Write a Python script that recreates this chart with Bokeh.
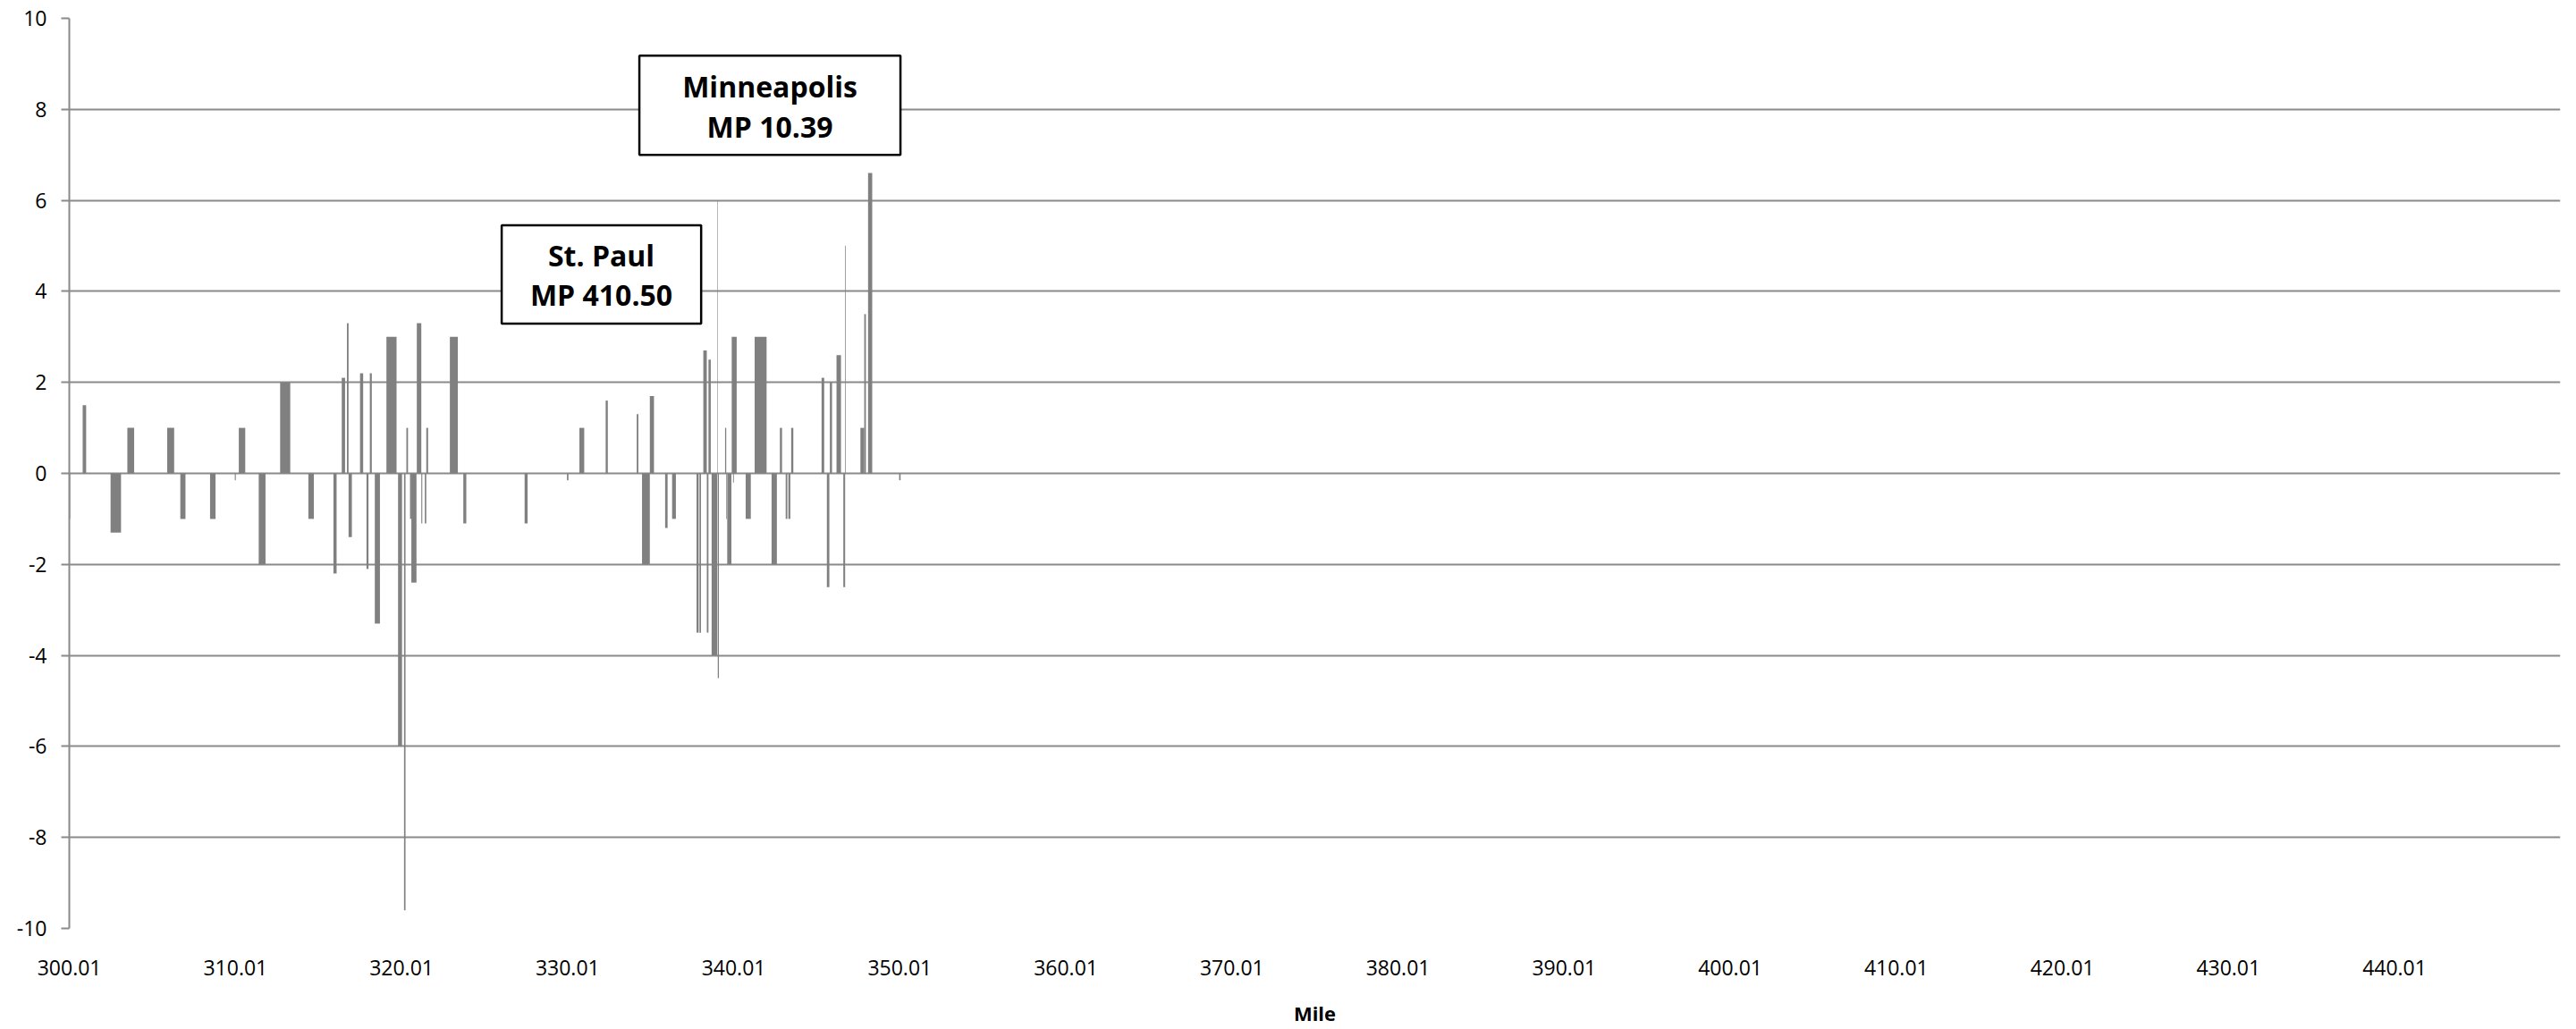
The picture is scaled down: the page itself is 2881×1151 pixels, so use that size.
from bokeh.plotting import figure
from bokeh.models import Range1d, FixedTicker, NumeralTickFormatter, BoxAnnotation, Label, ColumnDataSource
from bokeh.embed import file_html
from bokeh.resources import INLINE

# ---- data ----
bar_start = [300.02, 300.81, 302.49, 303.50, 305.90, 306.69, 308.48, 309.97, 310.21, 311.41,
             312.70, 314.40, 315.91, 316.41, 316.72, 316.82, 317.51, 317.90, 318.10, 318.40,
             319.10, 319.80, 320.16, 320.30, 320.52, 320.60, 320.93, 321.20, 321.41, 321.50,
             322.92, 323.73, 327.42, 329.97, 330.72, 332.30, 334.17, 334.49, 334.96, 335.88,
             336.30, 337.77, 337.95, 338.18, 338.39, 338.49, 338.68, 339.02, 339.05, 339.49,
             339.56, 339.62, 339.89, 339.97, 340.73, 341.27, 342.29, 342.79, 343.14, 343.30,
             343.47, 345.30, 345.62, 345.80, 346.20, 346.61, 346.72, 347.64, 347.87, 348.10,
             349.97]
bar_end = [300.06, 301.02, 303.12, 303.91, 306.32, 307.00, 308.81, 310.03, 310.60, 311.82,
           313.31, 314.73, 316.10, 316.61, 316.82, 317.02, 317.70, 318.02, 318.22, 318.71,
           319.71, 320.04, 320.25, 320.40, 320.60, 320.91, 321.20, 321.26, 321.50, 321.61,
           323.40, 323.91, 327.60, 330.06, 331.01, 332.43, 334.27, 334.96, 335.21, 336.03,
           336.53, 337.90, 338.04, 338.39, 338.49, 338.63, 339.02, 339.05, 339.12, 339.56,
           339.60, 339.87, 340.19, 340.02, 341.04, 341.99, 342.61, 342.92, 343.24, 343.42,
           343.60, 345.46, 345.77, 345.93, 346.47, 346.72, 346.76, 347.87, 347.97, 348.35,
           350.06]
bar_value = [-1.0, 1.5, -1.3, 1.0, 1.0, -1.0, -1.0, -0.15, 1.0, -2.0,
             2.0, -1.0, -2.2, 2.1, 3.3, -1.4, 2.2, -2.1, 2.2, -3.3,
             3.0, -6.0, -9.6, 1.0, -1.0, -2.4, 3.3, -1.1, -1.1, 1.0,
             3.0, -1.1, -1.1, -0.15, 1.0, 1.6, 1.3, -2.0, 1.7, -1.2,
             -1.0, -3.5, -3.5, 2.7, -3.5, 2.5, -4.0, 6.0, -4.5, 1.0,
             -1.0, -2.0, 3.0, -0.2, -1.0, 3.0, -2.0, 1.0, -1.0, -1.0,
             1.0, 2.1, -2.5, 2.0, 2.6, -2.5, 5.0, 1.0, 3.5, 6.6,
             -0.15]

x_ticks = [300.01, 310.01, 320.01, 330.01, 340.01, 350.01, 360.01, 370.01,
           380.01, 390.01, 400.01, 410.01, 420.01, 430.01, 440.01]
y_ticks = [-10, -8, -6, -4, -2, 0, 2, 4, 6, 8, 10]
x_title = "Mile"

city_names = ["St. Paul", "Minneapolis"]
city_mileposts = ["MP 410.50", "MP 10.39"]

# ---- styling ----
GRID = "#8a8a8a"
BAR = "#808080"
FONT = "Open Sans"

p = figure(width=2873, height=1150, output_backend="svg", toolbar_location=None,
           x_range=Range1d(300.005, 449.995), y_range=Range1d(-10, 10),
           min_border_left=77, min_border_right=10, min_border_top=20, min_border_bottom=111)
p.outline_line_color = None
p.background_fill_color = "white"
p.border_fill_color = "white"

src = ColumnDataSource(dict(left=bar_start, right=bar_end, top=bar_value))
p.quad(left="left", right="right", top="top", bottom=0, source=src,
       fill_color=BAR, line_color=None)

# grid
p.xgrid.visible = False
p.ygrid.grid_line_color = GRID
p.ygrid.grid_line_width = 2
p.ygrid.ticker = FixedTicker(ticks=y_ticks)

# y axis
ya = p.yaxis[0]
ya.ticker = FixedTicker(ticks=y_ticks)
ya.major_label_overrides = {t: str(t) for t in y_ticks}
ya.axis_line_color = GRID
ya.axis_line_width = 2
ya.major_tick_line_color = GRID
ya.major_tick_line_width = 2
ya.major_tick_out = 9
ya.major_tick_in = 0
ya.minor_tick_line_color = None
ya.major_label_standoff = 16
ya.major_label_text_font = FONT
ya.major_label_text_font_size = "23px"
ya.major_label_text_color = "black"

# x axis
xa = p.xaxis[0]
xa.ticker = FixedTicker(ticks=x_ticks)
xa.formatter = NumeralTickFormatter(format="0.00")
xa.axis_line_color = None
xa.major_tick_line_color = None
xa.minor_tick_line_color = None
xa.major_tick_out = 0
xa.major_tick_in = 0
xa.major_label_standoff = 35
xa.major_label_text_font = FONT
xa.major_label_text_font_size = "23px"
xa.major_label_text_color = "black"
xa.axis_label = x_title
xa.axis_label_text_font = FONT
xa.axis_label_text_font_style = "bold"
xa.axis_label_text_font_size = "22px"
xa.axis_label_text_color = "black"
xa.axis_label_standoff = 24

# annotation boxes
boxes = [
    dict(left=326.04, right=338.05, top=5.45, bottom=3.29, cx=332.04, y1=4.80, y2=3.92),
    dict(left=334.33, right=350.05, top=9.18, bottom=7.00, cx=342.19, y1=8.51, y2=7.63),
]
for b, name, mp in zip(boxes, city_names, city_mileposts):
    p.add_layout(BoxAnnotation(left=b["left"], right=b["right"], top=b["top"], bottom=b["bottom"],
                               fill_color="white", fill_alpha=1.0,
                               line_color="black", line_width=2.5, line_alpha=1.0))
    for txt, yy in ((name, b["y1"]), (mp, b["y2"])):
        p.add_layout(Label(x=b["cx"], y=yy, text=txt, text_align="center",
                           text_baseline="alphabetic", text_font=FONT,
                           text_font_style="bold", text_font_size="32px",
                           text_color="black"))

open("out.html", "w").write(file_html(p, INLINE))
